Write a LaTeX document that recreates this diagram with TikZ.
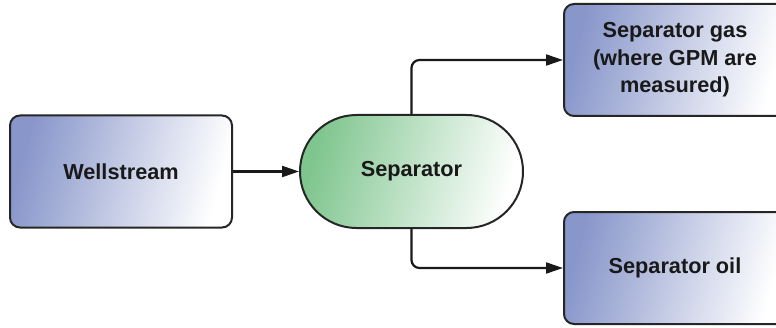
\documentclass[tikz,border=0pt]{standalone}
\usepackage{fontspec}
\setmainfont{Liberation Sans}
\usetikzlibrary{arrows.meta,shapes.misc}
\definecolor{boxblue}{HTML}{8896CA}
\definecolor{boxgreen}{HTML}{7FC58E}
\tikzset{
  x=1pt,y=1pt,
  lbl/.style={font=\fontsize{21.7}{27.5}\selectfont\bfseries, text=black!90, align=center},
  bluebox/.style={lbl, draw=black!85, line width=2pt, rounded corners=10pt,
    minimum width=222pt, minimum height=112pt, inner sep=0pt,
    shading=axis, top color=boxblue, bottom color=white, shading angle=75},
  sepbox/.style={lbl, draw=black!85, line width=2pt, rounded rectangle,
    minimum width=223pt, minimum height=113pt, inner sep=0pt,
    shading=axis, top color=boxgreen, bottom color=white, shading angle=75},
  flow/.style={line width=2.2pt, draw=black!90, rounded corners=8pt,
    -{Triangle[length=17pt,width=11pt]}}
}
\begin{document}
\begin{tikzpicture}
\useasboundingbox (0,0) rectangle (776,327);
\clip (0,0) rectangle (776,327);
\node[bluebox] (well) at (121,155.5) {Wellstream};
\node[sepbox] (sep) at (411.5,155.5) {Separator};
\node[bluebox] (gas) at (675,267) {\raisebox{-2pt}{\parbox{200pt}{\centering Separator gas\\(where GPM are\\measured)}}};
\node[bluebox] (oil) at (675,59) {Separator oil};
\draw[flow] (well.east) -- (sep.west);
\draw[flow] (sep.north) |- (gas.west);
\draw[flow] (sep.south) |- (oil.west);
\end{tikzpicture}
\end{document}
